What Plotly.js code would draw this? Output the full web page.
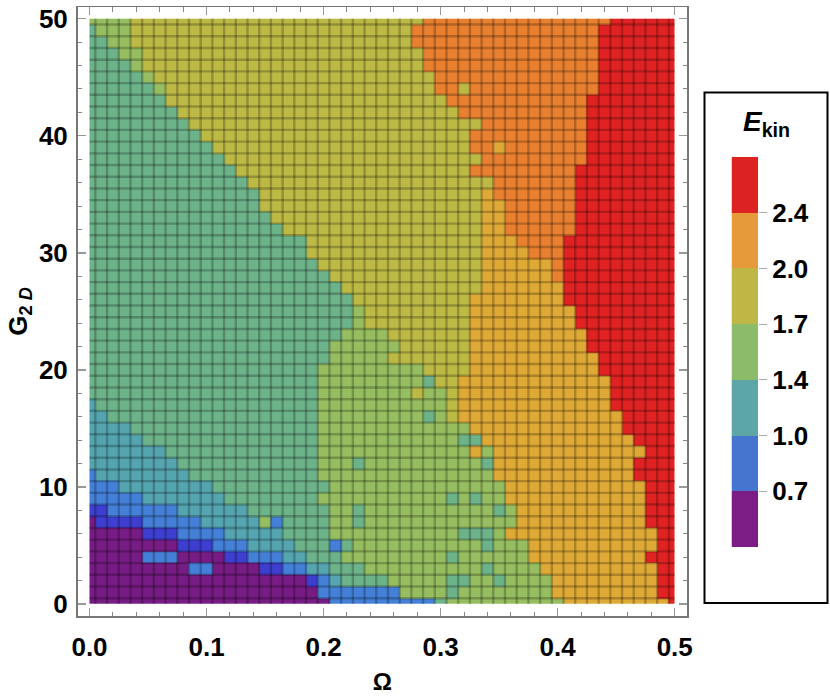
<!DOCTYPE html>
<html>
<head>
<meta charset="utf-8">
<script src="https://cdn.plot.ly/plotly-3.0.1.min.js"></script>
<style>
  html, body { margin: 0; padding: 0; background: #fff; }
</style>
</head>
<body>
<div id="plot" style="width:830px;height:696px;"></div>
<script>
/* Chart values */
const omegaValues = Array.from({ length: 51 }, (_, i) => i / 100);
const gValues = Array.from({ length: 51 }, (_, i) => i);

// Colours of the cells, lowest energy first
const cellColors = ["#771C84", "#3E3ED0", "#4480D8", "#55A5B0", "#6DB38A",
                    "#96BE60", "#BDB945", "#DFA936", "#E98030", "#E02222"];

// Legend swatches and the labels between them
const legendColors = ["#7B1D84", "#4575CE", "#5DA6A7", "#8CBB69", "#BEB746", "#E69A39", "#DD2222"];
const legendLabels = ["0.7", "1.0", "1.4", "1.7", "2.0", "2.4"];

// One line per G value from 0 upwards: level, last column of that level, ...
const rowRuns = [
  [0,20, 2,29, 4,30, 5,40, 7,49, 9,50],
  [0,19, 2,26, 5,30, 4,31, 5,39, 7,48, 9,50],
  [0,18, 1,19, 2,20, 3,21, 4,25, 5,30, 4,32, 5,34, 4,35, 5,39, 7,48, 9,50],
  [0,8, 2,10, 0,14, 1,16, 2,18, 3,20, 4,23, 5,33, 4,34, 5,38, 7,48, 9,50],
  [0,4, 2,7, 0,11, 1,13, 2,16, 3,18, 4,21, 5,30, 4,31, 5,37, 7,47, 9,50],
  [0,7, 1,10, 2,13, 3,17, 4,20, 2,21, 4,22, 5,33, 4,34, 5,37, 7,48, 9,50],
  [0,4, 1,7, 2,11, 3,16, 4,20, 5,31, 4,34, 5,35, 7,48, 9,50],
  [0,0, 1,4, 2,9, 3,14, 5,15, 2,16, 4,20, 5,22, 4,23, 5,36, 7,47, 9,50],
  [1,1, 2,7, 3,13, 4,20, 5,22, 4,23, 5,34, 4,35, 5,36, 7,47, 9,50],
  [2,4, 3,11, 4,19, 5,30, 4,31, 5,32, 4,33, 5,35, 7,47, 9,50],
  [2,2, 3,10, 4,20, 5,35, 7,47, 9,50],
  [2,0, 3,8, 4,19, 5,34, 7,46, 9,50],
  [3,7, 4,19, 5,22, 4,23, 5,33, 4,34, 7,46, 9,50],
  [3,6, 4,19, 5,32, 7,33, 5,34, 7,47, 9,50],
  [3,4, 4,19, 5,31, 4,33, 7,46, 9,50],
  [3,3, 4,19, 5,32, 7,45, 9,50],
  [3,1, 4,19, 5,28, 4,29, 5,30, 6,31, 7,45, 9,50],
  [3,0, 4,19, 5,30, 6,31, 7,44, 9,50],
  [4,19, 5,27, 6,28, 5,30, 6,31, 7,44, 9,50],
  [4,19, 5,28, 4,29, 6,31, 7,44, 9,50],
  [4,19, 5,28, 6,32, 7,43, 9,50],
  [4,20, 5,25, 6,32, 7,43, 9,50],
  [4,20, 5,26, 6,32, 7,42, 9,50],
  [4,21, 5,25, 6,32, 7,42, 9,50],
  [4,22, 5,23, 6,32, 7,41, 9,50],
  [4,22, 5,23, 6,32, 7,41, 9,50],
  [4,22, 6,32, 7,40, 9,50],
  [4,21, 6,33, 7,40, 9,50],
  [4,20, 6,33, 7,39, 8,40, 9,50],
  [4,19, 6,33, 7,39, 8,40, 9,50],
  [4,18, 6,33, 7,37, 8,40, 9,50],
  [4,18, 6,33, 7,36, 8,40, 9,50],
  [4,16, 6,33, 7,35, 8,41, 9,50],
  [4,15, 6,33, 7,35, 8,41, 9,50],
  [4,14, 6,33, 7,35, 8,41, 9,50],
  [4,14, 6,33, 7,34, 8,41, 9,50],
  [4,13, 6,34, 8,41, 9,50],
  [4,12, 6,32, 8,41, 9,50],
  [4,11, 6,33, 8,42, 9,50],
  [4,10, 6,32, 8,34, 7,35, 8,42, 9,50],
  [4,9, 6,32, 8,42, 9,50],
  [4,8, 6,33, 8,42, 9,50],
  [4,7, 6,31, 8,42, 9,50],
  [4,6, 6,30, 8,42, 9,50],
  [4,5, 5,6, 6,29, 8,31, 6,32, 8,43, 9,50],
  [4,4, 5,5, 6,29, 8,43, 9,50],
  [4,3, 5,4, 6,28, 8,43, 9,50],
  [4,2, 5,4, 6,28, 8,43, 9,50],
  [4,1, 5,3, 6,27, 8,43, 9,50],
  [4,0, 5,3, 6,27, 8,43, 9,50],
  [5,3, 6,28, 8,44, 9,50]
];

// Page is 830x696, so the domains below are pixel positions divided by that
const W = 830, H = 696;
const labelFont = { family: "Liberation Sans", size: 26, color: "#000", weight: 700 };

// Expand "level, last column" pairs into a full row of levels
function expandRow(runs) {
  let row = [];
  for (let k = 0; k < runs.length; k += 2) {
    while (row.length <= runs[k + 1]) row.push(runs[k]);
  }
  return row;
}

// Cell edges half way between the samples, cut off at the ends of the range
function cellEdges(values) {
  let edges = [values[0]];
  for (let i = 1; i < values.length; i++) edges.push((values[i - 1] + values[i]) / 2);
  edges.push(values[values.length - 1]);
  return edges;
}

// Colorscale with hard steps, one per colour
function stepScale(colors) {
  let scale = [];
  colors.forEach((c, i) => {
    scale.push([i / colors.length, c]);
    scale.push([(i + 1) / colors.length, c]);
  });
  return scale;
}

// Thin dark lines between the cells, drawn as one trace with gaps
function meshTrace(xEdges, yEdges) {
  let xs = [], ys = [];
  const xFirst = xEdges[0], xLast = xEdges[xEdges.length - 1];
  const yFirst = yEdges[0], yLast = yEdges[yEdges.length - 1];
  xEdges.slice(1, -1).forEach(x => { xs.push(x, x, null); ys.push(yFirst, yLast, null); });
  yEdges.slice(1, -1).forEach(y => { xs.push(xFirst, xLast, null); ys.push(y, y, null); });
  return {
    type: "scatter", mode: "lines", x: xs, y: ys,
    line: { color: "rgba(0,0,0,0.23)", width: 2.4 },
    hoverinfo: "skip", showlegend: false
  };
}

function init() {
  const xEdges = cellEdges(omegaValues);
  const yEdges = cellEdges(gValues);

  const cells = {
    type: "heatmap", x: xEdges, y: yEdges, z: rowRuns.map(expandRow),
    zmin: -0.5, zmax: cellColors.length - 0.5,
    colorscale: stepScale(cellColors), showscale: false
  };

  // The legend bar is a small heatmap on its own axes
  const legendBar = {
    type: "heatmap", xaxis: "x2", yaxis: "y2",
    x: [0, 1], y: legendColors.map((c, i) => i).concat(legendColors.length),
    z: legendColors.map((c, i) => [i]),
    zmin: -0.5, zmax: legendColors.length - 0.5,
    colorscale: stepScale(legendColors), showscale: false
  };

  const frame = {
    showgrid: false, zeroline: false, showline: true, mirror: "ticks",
    linecolor: "#777", linewidth: 1.5,
    ticks: "inside", ticklen: 8, tickwidth: 1.3, tickcolor: "#999",
    tickfont: labelFont
  };
  const minorTicks = { ticks: "inside", ticklen: 4.5, tickwidth: 1, tickcolor: "#888", showgrid: false };

  const layout = {
    width: W, height: H, autosize: false,
    margin: { l: 0, r: 0, t: 0, b: 0 },
    paper_bgcolor: "#fff", plot_bgcolor: "#fff",
    showlegend: false,
    xaxis: Object.assign({}, frame, {
      domain: [77.5 / W, 687 / W], range: [-0.01025, 0.5105],
      tick0: 0, dtick: 0.1, tickformat: ".1f", ticklabelstandoff: 7,
      minor: Object.assign({ tick0: 0, dtick: 0.02 }, minorTicks),
      title: { text: "Ω", font: { family: "Liberation Sans", size: 24, color: "#000", weight: 700 }, standoff: 12 }
    }),
    yaxis: Object.assign({}, frame, {
      domain: [(H - 616) / H, (H - 7) / H], range: [-1.02, 51],
      tick0: 0, dtick: 10, ticklabelstandoff: 3,
      minor: Object.assign({ tick0: 0, dtick: 2 }, minorTicks),
      title: { text: "G<sub>2 <i>D</i></sub>", font: { family: "Liberation Sans", size: 26, color: "#000", weight: 700 }, standoff: 4 }
    }),
    xaxis2: {
      domain: [731.5 / W, 758 / W], range: [0, 1], anchor: "y2", visible: false
    },
    yaxis2: {
      domain: [(H - 547) / H, (H - 157) / H], range: [0, legendColors.length], anchor: "x2", side: "right",
      showgrid: false, zeroline: false, showline: false,
      tickmode: "array", tickvals: legendLabels.map((t, i) => i + 1), ticktext: legendLabels,
      ticks: "outside", ticklen: 8, tickwidth: 1, tickcolor: "#aaa", tickfont: labelFont
    },
    shapes: [{
      type: "rect", xref: "paper", yref: "paper", layer: "below",
      x0: 704.5 / W, x1: 827.5 / W, y0: (H - 603) / H, y1: (H - 92.5) / H,
      line: { color: "#000", width: 2 }, fillcolor: "rgba(0,0,0,0)"
    }],
    annotations: [{
      xref: "paper", yref: "paper", x: 766 / W, y: (H - 124) / H, showarrow: false,
      xanchor: "center", yanchor: "middle",
      text: "<i>E</i><sub>kin</sub>",
      font: { family: "Liberation Sans", size: 28, color: "#000", weight: 700 }
    }]
  };

  Plotly.newPlot("plot", [cells, meshTrace(xEdges, yEdges), legendBar], layout, { displayModeBar: false, staticPlot: true });
}

window.onload = init;
</script>
</body>
</html>
